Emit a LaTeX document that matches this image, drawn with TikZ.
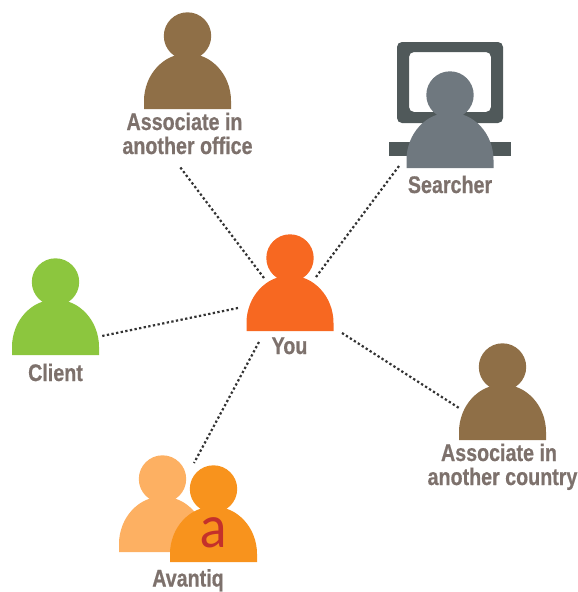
\documentclass[tikz,border=0pt]{standalone}
\usepackage{fontspec}
\newfontfamily\labfont[FakeStretch=0.82,FakeBold=0.6]{Liberation Sans Bold}
\newfontfamily\logofont[FakeStretch=0.92]{Lato}
\definecolor{youc}{HTML}{F76821}
\definecolor{brownc}{HTML}{8F6F47}
\definecolor{greenc}{HTML}{8CC63E}
\definecolor{grayc}{HTML}{6F787F}
\definecolor{darkc}{HTML}{50595A}
\definecolor{paleor}{HTML}{FDB062}
\definecolor{orangec}{HTML}{F8931D}
\definecolor{redc}{HTML}{C4312B}
\definecolor{textc}{HTML}{7D716C}
\tikzset{
  x=1pt,y=-1pt,
  lab/.style={font=\labfont\fontsize{24}{25}\selectfont,text=textc,align=center,inner sep=0pt,anchor=base},
  link/.style={line width=2.2pt,dash pattern=on 2.3pt off 2.4pt,draw=black!80},
  personbox/.style={inner sep=0pt,minimum width=87pt,minimum height=97pt,anchor=south}
}
% #1 node name, #2 colour, #3 centre x, #4 bottom y
\newcommand{\person}[4]{%
  \fill[#2] (#3-43.5,#4) -- (#3-43.5,#4-8)
    arc[start angle=180,end angle=0,x radius=43.5,y radius=-47.5]
    -- (#3+43.5,#4) -- cycle;
  \fill[#2] (#3,#4-73) circle[radius=23.7];
  \node[personbox] (#1) at (#3,#4) {};
}
\begin{document}
\begin{tikzpicture}
\useasboundingbox (0,0) rectangle (578,592);
% monitor
\fill[darkc,rounded corners=5pt,even odd rule]
  (397,42) rectangle (503,123) (409,52) rectangle (491,112);
\fill[darkc] (389,142) rectangle (511,156);
\person{you}{youc}{290}{331}
\person{office}{brownc}{187.5}{109}
\person{searcher}{grayc}{450}{168}
\person{client}{greenc}{55.5}{355}
\person{country}{brownc}{502.5}{440}
\person{avback}{paleor}{162.5}{552}
\person{avfront}{orangec}{213.5}{562}
\node[font=\logofont\fontsize{58}{58}\selectfont,text=redc,inner sep=0pt,anchor=base] (logo) at (213.5,547.5) {a};
\node[lab] (lofficea) at (184.5,130) {Associate in};
\node[lab] (lofficeb) at (187.5,154) {another office};
\node[lab] (lsearch) at (450,193) {Searcher};
\node[lab] (lyou) at (289.5,354) {You};
\node[lab] (lclient) at (55.5,381) {Client};
\node[lab] (lcountrya) at (499,461) {Associate in};
\node[lab] (lcountryb) at (502.5,485) {another country};
\node[lab] (lavantiq) at (188,586.5) {Avantiq};
\coordinate (y1) at (264,278); \coordinate (o1) at (180,167);
\coordinate (y2) at (316,277); \coordinate (s1) at (399,166);
\coordinate (y3) at (238,308); \coordinate (c1) at (102,336);
\coordinate (y4) at (342,333); \coordinate (k1) at (459,408);
\coordinate (y5) at (259,342); \coordinate (a1) at (194,463);
\draw[link] (y1) -- (o1);
\draw[link] (y2) -- (s1);
\draw[link] (y3) -- (c1);
\draw[link] (y4) -- (k1);
\draw[link] (y5) -- (a1);
\end{tikzpicture}
\end{document}
